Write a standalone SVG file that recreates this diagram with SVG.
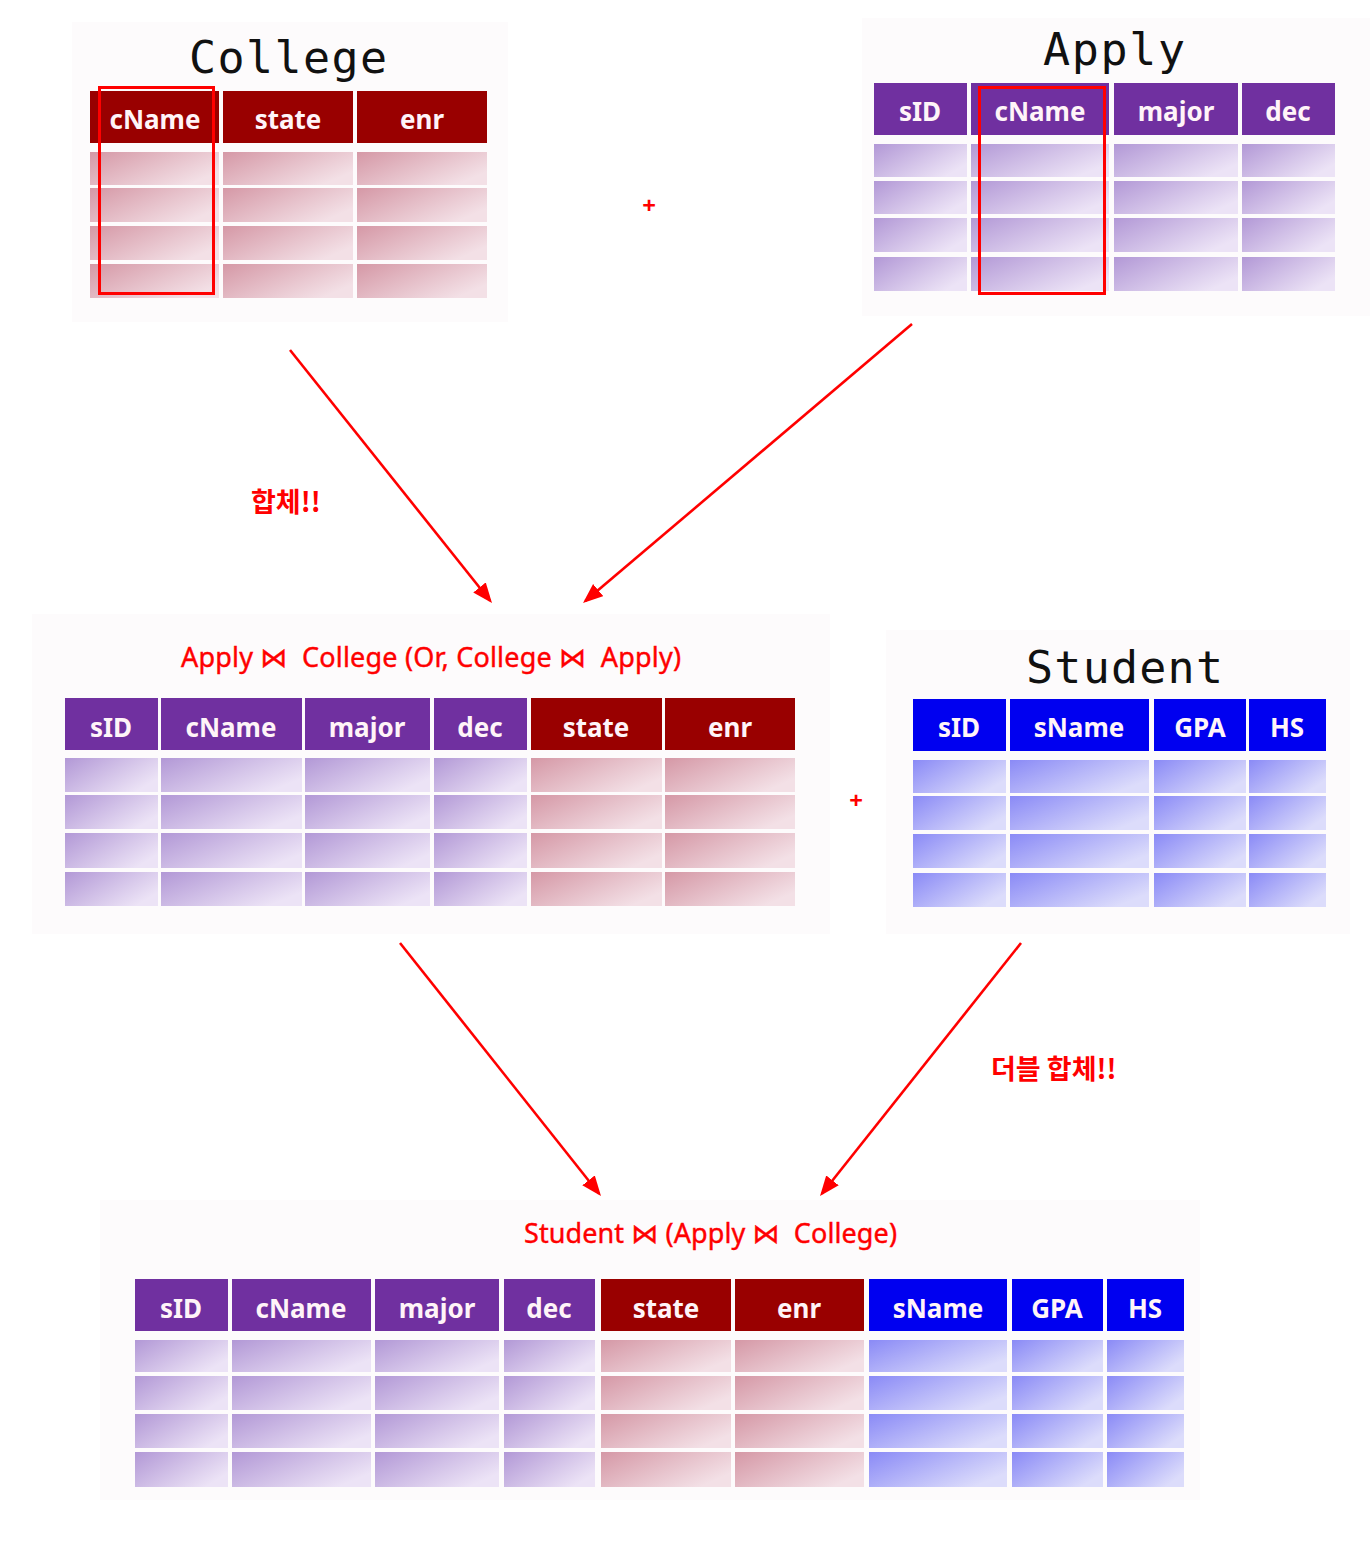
<svg xmlns="http://www.w3.org/2000/svg" width="1372" height="1554" viewBox="0 0 1372 1554">
<defs>
<style>
.t{font-family:"DejaVu Sans Mono","Liberation Mono",monospace;font-size:45px;fill:#111}
.h{font-family:"Noto Sans","Open Sans",sans-serif;font-weight:bold;font-size:26px;fill:#fff4f8;text-anchor:middle}
.hr{fill:#990000}
.hp{fill:#7030a0}
.hb{fill:#0000f0}
.cr{fill:url(#gr)}
.cp{fill:url(#gp)}
.cb{fill:url(#gb)}
.lbl{font-family:"Noto Sans","Noto Sans CJK KR","DejaVu Sans",sans-serif;font-size:27px;fill:#ff0000;white-space:pre;stroke:#ff0000;stroke-width:0.4}
.kr{font-family:"Noto Sans CJK KR",sans-serif;font-weight:bold;font-size:27px;fill:#ff0000}
.plus{font-family:"Noto Sans",sans-serif;font-weight:bold;font-size:24px;fill:#ff0000;text-anchor:middle}
.bg{fill:#fdfbfc}
.sel{fill:none;stroke:#ff0000;stroke-width:3}
.arr{stroke:#ff0000;stroke-width:2.6;fill:none;marker-end:url(#ah)}
</style>
<linearGradient id="gr" x1="0" y1="0" x2="1" y2="0.6">
<stop offset="0" stop-color="#d598a6"/><stop offset="1" stop-color="#f3e0e6"/>
</linearGradient>
<linearGradient id="gp" x1="0" y1="0" x2="1" y2="0.6">
<stop offset="0" stop-color="#b298d6"/><stop offset="1" stop-color="#ece3f6"/>
</linearGradient>
<linearGradient id="gb" x1="0" y1="0" x2="1" y2="0.6">
<stop offset="0" stop-color="#8a8af6"/><stop offset="1" stop-color="#dcdcfb"/>
</linearGradient>
<marker id="ah" markerUnits="userSpaceOnUse" markerWidth="20" markerHeight="16" refX="17" refY="8" orient="auto">
<path d="M0,0 L20,8 L0,16 z" fill="#ff0000"/>
</marker>
</defs>
<rect width="1372" height="1554" fill="#ffffff"/>

<g id="college">
<rect class="bg" x="72" y="22" width="436" height="300"/>
<text class="t" x="189" y="73" textLength="198">College</text>
<rect class="hr" x="90" y="91" width="129" height="52"/>
<rect class="hr" x="223" y="91" width="130" height="52"/>
<rect class="hr" x="357" y="91" width="130" height="52"/>
<text class="h" x="155" y="129">cName</text>
<text class="h" x="288" y="129">state</text>
<text class="h" x="422" y="129">enr</text>
<g class="cr">
<rect x="90" y="152" width="129" height="33"/><rect x="223" y="152" width="130" height="33"/><rect x="357" y="152" width="130" height="33"/>
<rect x="90" y="188" width="129" height="34"/><rect x="223" y="188" width="130" height="34"/><rect x="357" y="188" width="130" height="34"/>
<rect x="90" y="226" width="129" height="34"/><rect x="223" y="226" width="130" height="34"/><rect x="357" y="226" width="130" height="34"/>
<rect x="90" y="264" width="129" height="34"/><rect x="223" y="264" width="130" height="34"/><rect x="357" y="264" width="130" height="34"/>
</g>
<rect class="sel" x="99.5" y="87.5" width="114" height="206"/>
</g>

<g id="apply">
<rect class="bg" x="862" y="18" width="508" height="298"/>
<text class="t" x="1043" y="65" textLength="142">Apply</text>
<rect class="hp" x="874" y="83" width="93" height="52"/>
<rect class="hp" x="971" y="83" width="138" height="52"/>
<rect class="hp" x="1114" y="83" width="124" height="52"/>
<rect class="hp" x="1242" y="83" width="93" height="52"/>
<text class="h" x="920" y="121">sID</text>
<text class="h" x="1040" y="121">cName</text>
<text class="h" x="1176" y="121">major</text>
<text class="h" x="1288" y="121">dec</text>
<g class="cp">
<rect x="874" y="144" width="93" height="33"/><rect x="971" y="144" width="138" height="33"/><rect x="1114" y="144" width="124" height="33"/><rect x="1242" y="144" width="93" height="33"/>
<rect x="874" y="181" width="93" height="33"/><rect x="971" y="181" width="138" height="33"/><rect x="1114" y="181" width="124" height="33"/><rect x="1242" y="181" width="93" height="33"/>
<rect x="874" y="218" width="93" height="34"/><rect x="971" y="218" width="138" height="34"/><rect x="1114" y="218" width="124" height="34"/><rect x="1242" y="218" width="93" height="34"/>
<rect x="874" y="257" width="93" height="34"/><rect x="971" y="257" width="138" height="34"/><rect x="1114" y="257" width="124" height="34"/><rect x="1242" y="257" width="93" height="34"/>
</g>
<rect class="sel" x="979.5" y="87.5" width="125" height="206"/>
</g>

<g id="apply_join_college">
<rect class="bg" x="32" y="614" width="798" height="320"/>
<text class="lbl" x="181" y="667" textLength="500">Apply ⋈  College (Or, College ⋈  Apply)</text>
<rect class="hp" x="65" y="698" width="93" height="52"/>
<rect class="hp" x="161" y="698" width="141" height="52"/>
<rect class="hp" x="305" y="698" width="125" height="52"/>
<rect class="hp" x="434" y="698" width="93" height="52"/>
<rect class="hr" x="531" y="698" width="131" height="52"/>
<rect class="hr" x="665" y="698" width="130" height="52"/>
<text class="h" x="111" y="737">sID</text>
<text class="h" x="231" y="737">cName</text>
<text class="h" x="367" y="737">major</text>
<text class="h" x="480" y="737">dec</text>
<text class="h" x="596" y="737">state</text>
<text class="h" x="730" y="737">enr</text>
<g class="cp">
<rect x="65" y="758" width="93" height="34"/><rect x="161" y="758" width="141" height="34"/><rect x="305" y="758" width="125" height="34"/><rect x="434" y="758" width="93" height="34"/>
<rect x="65" y="795" width="93" height="34"/><rect x="161" y="795" width="141" height="34"/><rect x="305" y="795" width="125" height="34"/><rect x="434" y="795" width="93" height="34"/>
<rect x="65" y="833" width="93" height="35"/><rect x="161" y="833" width="141" height="35"/><rect x="305" y="833" width="125" height="35"/><rect x="434" y="833" width="93" height="35"/>
<rect x="65" y="872" width="93" height="34"/><rect x="161" y="872" width="141" height="34"/><rect x="305" y="872" width="125" height="34"/><rect x="434" y="872" width="93" height="34"/>
</g>
<g class="cr">
<rect x="531" y="758" width="131" height="34"/><rect x="665" y="758" width="130" height="34"/>
<rect x="531" y="795" width="131" height="34"/><rect x="665" y="795" width="130" height="34"/>
<rect x="531" y="833" width="131" height="35"/><rect x="665" y="833" width="130" height="35"/>
<rect x="531" y="872" width="131" height="34"/><rect x="665" y="872" width="130" height="34"/>
</g>
</g>

<g id="student">
<rect class="bg" x="886" y="630" width="464" height="304"/>
<text class="t" x="1026" y="683" textLength="197">Student</text>
<rect class="hb" x="913" y="699" width="93" height="52"/>
<rect class="hb" x="1010" y="699" width="139" height="52"/>
<rect class="hb" x="1154" y="699" width="92" height="52"/>
<rect class="hb" x="1249" y="699" width="77" height="52"/>
<text class="h" x="959" y="737">sID</text>
<text class="h" x="1079" y="737">sName</text>
<text class="h" x="1200" y="737">GPA</text>
<text class="h" x="1287" y="737">HS</text>
<g class="cb">
<rect x="913" y="760" width="93" height="33"/><rect x="1010" y="760" width="139" height="33"/><rect x="1154" y="760" width="92" height="33"/><rect x="1249" y="760" width="77" height="33"/>
<rect x="913" y="796" width="93" height="34"/><rect x="1010" y="796" width="139" height="34"/><rect x="1154" y="796" width="92" height="34"/><rect x="1249" y="796" width="77" height="34"/>
<rect x="913" y="834" width="93" height="34"/><rect x="1010" y="834" width="139" height="34"/><rect x="1154" y="834" width="92" height="34"/><rect x="1249" y="834" width="77" height="34"/>
<rect x="913" y="873" width="93" height="34"/><rect x="1010" y="873" width="139" height="34"/><rect x="1154" y="873" width="92" height="34"/><rect x="1249" y="873" width="77" height="34"/>
</g>
</g>

<g id="student_join_result">
<rect class="bg" x="100" y="1200" width="1100" height="300"/>
<text class="lbl" x="524" y="1243" textLength="373">Student ⋈ (Apply ⋈  College)</text>
<rect class="hp" x="135" y="1279" width="93" height="52"/>
<rect class="hp" x="232" y="1279" width="139" height="52"/>
<rect class="hp" x="375" y="1279" width="124" height="52"/>
<rect class="hp" x="504" y="1279" width="91" height="52"/>
<rect class="hr" x="601" y="1279" width="130" height="52"/>
<rect class="hr" x="735" y="1279" width="129" height="52"/>
<rect class="hb" x="869" y="1279" width="138" height="52"/>
<rect class="hb" x="1012" y="1279" width="91" height="52"/>
<rect class="hb" x="1107" y="1279" width="77" height="52"/>
<text class="h" x="181" y="1318">sID</text>
<text class="h" x="301" y="1318">cName</text>
<text class="h" x="437" y="1318">major</text>
<text class="h" x="549" y="1318">dec</text>
<text class="h" x="666" y="1318">state</text>
<text class="h" x="799" y="1318">enr</text>
<text class="h" x="938" y="1318">sName</text>
<text class="h" x="1057" y="1318">GPA</text>
<text class="h" x="1145" y="1318">HS</text>
<g class="cp">
<rect x="135" y="1340" width="93" height="32"/><rect x="232" y="1340" width="139" height="32"/><rect x="375" y="1340" width="124" height="32"/><rect x="504" y="1340" width="91" height="32"/>
<rect x="135" y="1376" width="93" height="34"/><rect x="232" y="1376" width="139" height="34"/><rect x="375" y="1376" width="124" height="34"/><rect x="504" y="1376" width="91" height="34"/>
<rect x="135" y="1414" width="93" height="34"/><rect x="232" y="1414" width="139" height="34"/><rect x="375" y="1414" width="124" height="34"/><rect x="504" y="1414" width="91" height="34"/>
<rect x="135" y="1452" width="93" height="35"/><rect x="232" y="1452" width="139" height="35"/><rect x="375" y="1452" width="124" height="35"/><rect x="504" y="1452" width="91" height="35"/>
</g>
<g class="cr">
<rect x="601" y="1340" width="130" height="32"/><rect x="735" y="1340" width="129" height="32"/>
<rect x="601" y="1376" width="130" height="34"/><rect x="735" y="1376" width="129" height="34"/>
<rect x="601" y="1414" width="130" height="34"/><rect x="735" y="1414" width="129" height="34"/>
<rect x="601" y="1452" width="130" height="35"/><rect x="735" y="1452" width="129" height="35"/>
</g>
<g class="cb">
<rect x="869" y="1340" width="138" height="32"/><rect x="1012" y="1340" width="91" height="32"/><rect x="1107" y="1340" width="77" height="32"/>
<rect x="869" y="1376" width="138" height="34"/><rect x="1012" y="1376" width="91" height="34"/><rect x="1107" y="1376" width="77" height="34"/>
<rect x="869" y="1414" width="138" height="34"/><rect x="1012" y="1414" width="91" height="34"/><rect x="1107" y="1414" width="77" height="34"/>
<rect x="869" y="1452" width="138" height="35"/><rect x="1012" y="1452" width="91" height="35"/><rect x="1107" y="1452" width="77" height="35"/>
</g>
</g>

<g id="plus_signs">
<text class="plus" x="649" y="214">+</text>
<text class="plus" x="856" y="809">+</text>
</g>

<g id="connectors">
<line class="arr" x1="290" y1="350" x2="490.1" y2="600.7"/>
<line class="arr" x1="912" y1="324" x2="585.3" y2="601.1"/>
<line class="arr" x1="400" y1="943" x2="599.1" y2="1193.7"/>
<line class="arr" x1="1021" y1="943" x2="821.9" y2="1193.7"/>
<text class="kr" x="251" y="512">합체!!</text>
<text class="kr" x="991" y="1079">더블 합체!!</text>
</g>
</svg>
